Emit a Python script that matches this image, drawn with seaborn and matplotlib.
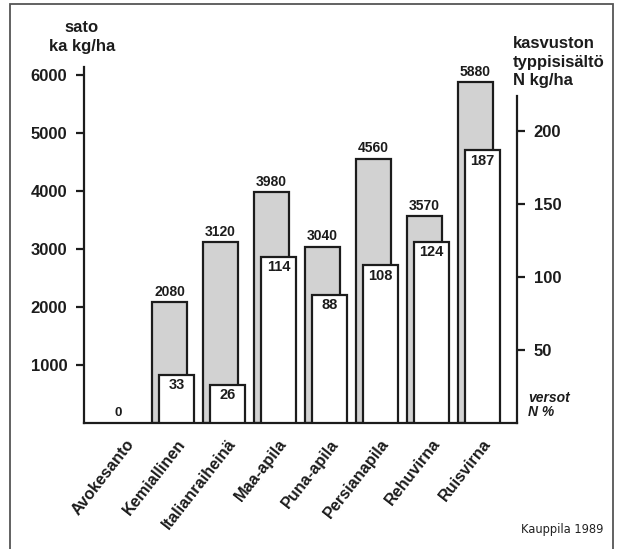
import numpy as np
import pandas as pd
import matplotlib
matplotlib.use("Agg")
import matplotlib.pyplot as plt
from matplotlib.patches import Rectangle
from matplotlib import font_manager as fm
import seaborn as sns

# Kasvit, kuiva-ainesato ja kasvuston typpisisältö
kasvit = ["Avokesanto", "Kemiallinen", "Italianraiheinä", "Maa-apila",
          "Puna-apila", "Persianapila", "Rehuvirna", "Ruisvirna"]
sato = [0, 2080, 3120, 3980, 3040, 4560, 3570, 5880]          # ka kg/ha
typpi = [0, 33, 26, 114, 88, 108, 124, 187]                    # N kg/ha
typpi_pros = ["", "1,4", "0,9", "2,9", "3,0", "2,4", "3,5", "3,2"]  # versot N %
sato_ticks = [1000, 2000, 3000, 4000, 5000, 6000]
typpi_ticks = [50, 100, 150, 200]

sns.set_style("white")
plt.rcParams["font.family"] = ["Liberation Sans", "DejaVu Sans"]
plt.rcParams["font.weight"] = "bold"

W, H = 618, 549
fig = plt.figure(figsize=(W / 100, H / 100), dpi=100)
fig.patch.set_facecolor("white")

def px(x, y):
    return x / W, 1 - y / H

x0, x1, ytop, ybot = 84, 517, 67, 423
ax = fig.add_axes([x0 / W, 1 - ybot / H, (x1 - x0) / W, (ybot - ytop) / H])
ax.set_facecolor("none")

df = pd.DataFrame({"kasvi": kasvit, "sato": sato, "typpi": typpi})

bw = 0.686     # bar width
dx = 0.137     # offset of the nitrogen bar
lw = 1.6
ink = "#1c1c1c"

sns.barplot(data=df, x="kasvi", y="sato", order=kasvit, ax=ax,
            color="#d2d2d2", saturation=1, width=bw, errorbar=None,
            edgecolor=ink, linewidth=lw)

ax2 = ax.twinx()
sns.barplot(data=df, x="kasvi", y="typpi", order=kasvit, ax=ax2,
            color="white", saturation=1, width=bw, errorbar=None,
            edgecolor=ink, linewidth=lw)
for p in ax2.patches:
    p.set_x(p.get_x() + dx)
for axx in (ax, ax2):
    for p in axx.patches:
        if p.get_height() == 0:
            p.set_visible(False)

ax.set_ylim(0, 6138)
ax2.set_ylim(0, 244)
ax.set_xlim(-0.676, 7.814)

# value labels
for i, (s, t, pct) in enumerate(zip(sato, typpi, typpi_pros)):
    if s > 0:
        ax.annotate(f"{s}", (i, s), xytext=(0, 7.5), textcoords="offset points",
                    ha="center", va="center", fontsize=10, fontweight="bold", color=ink)
    if t > 0:
        ax2.annotate(f"{t}", (i + dx, t), xytext=(0, -7.5), textcoords="offset points",
                     ha="center", va="center", fontsize=10.5, fontweight="bold", color=ink)
    if pct:
        ax.annotate(pct, (i + dx, 0), xycoords=ax.get_xaxis_transform(),
                    xytext=(0, 7.5), textcoords="offset points",
                    ha="center", va="center", fontsize=9.5, fontweight="bold",
                    style="italic", color=ink)
ax.annotate(f"{sato[0]}", (0, 0), xycoords=ax.get_xaxis_transform(),
            xytext=(0, 7.5), textcoords="offset points",
            ha="center", va="center", fontsize=9.5, fontweight="bold", color=ink)

# axes styling
for axx in (ax, ax2):
    axx.set_xlabel("")
    axx.set_ylabel("")
    for s in axx.spines.values():
        s.set_visible(False)
        s.set_linewidth(lw)
        s.set_color(ink)
ax.spines["left"].set_visible(True)
ax.spines["bottom"].set_visible(True)
ax2.spines["right"].set_visible(True)
ax2.spines["right"].set_bounds(0, 224)

ax.set_yticks(sato_ticks)
ax.set_yticklabels([str(v) for v in sato_ticks], fontsize=12, fontweight="bold", color=ink)
ax2.set_yticks(typpi_ticks)
ax2.set_yticklabels([str(v) for v in typpi_ticks], fontsize=12, fontweight="bold", color=ink)
ax.tick_params(axis="y", direction="out", length=6, width=lw, color=ink, pad=6, left=True)
ax2.tick_params(axis="y", direction="out", length=6, width=lw, color=ink, pad=6, right=True)

ax.set_xticks(np.arange(len(kasvit)) + 0.25)
ax.set_xticklabels(kasvit, rotation=52, ha="right", va="center",
                   rotation_mode="anchor", fontsize=11.7, fontweight="bold", color=ink)
ax.tick_params(axis="x", length=0, pad=13)
ax2.tick_params(axis="x", length=0, labelbottom=False)

# axis titles
fig.text(*px(82, 28), "sato", ha="center", va="center", fontsize=12, fontweight="bold", color=ink)
fig.text(*px(82, 47), "ka kg/ha", ha="center", va="center", fontsize=12, fontweight="bold", color=ink)
for yy, line in zip([44, 62, 80], ["kasvuston", "typpisisältö", "N kg/ha"]):
    fig.text(*px(513, yy), line, ha="left", va="center", fontsize=12, fontweight="bold", color=ink)
fig.text(*px(528, 398), "versot", ha="left", va="center", fontsize=10,
         fontweight="bold", style="italic", color=ink)
fig.text(*px(528, 412), "N %", ha="left", va="center", fontsize=10,
         fontweight="bold", style="italic", color=ink)

# source note in a condensed face when one is available
narrow = [f for f in fm.fontManager.ttflist
          if f.style == "normal" and (("Narrow" in f.name) or ("Condensed" in f.name)
                                      or f.stretch in ("condensed", "semi-condensed"))
          and f.weight in (400, "normal", "regular")]
src_kw = dict(family=["Liberation Sans", "DejaVu Sans"], fontweight="normal")
if narrow:
    src_kw = dict(fontproperties=fm.FontProperties(fname=narrow[0].fname))
src = fig.text(*px(603, 530), "Kauppila 1989", ha="right", va="center",
               color="#222222", **src_kw)
src.set_fontsize(11.5)
fig.canvas.draw()
wpx = src.get_window_extent().width
if wpx > 82:
    src.set_fontsize(11.5 * 82 / wpx)

# frame round the figure
fig.patches.append(Rectangle(px(10, 560), (613 - 10) / W, (560 - 4) / H,
                             transform=fig.transFigure, fill=False,
                             edgecolor="#555555", linewidth=1.3, clip_on=False))

fig.savefig("out.png", dpi=100, facecolor="white")
